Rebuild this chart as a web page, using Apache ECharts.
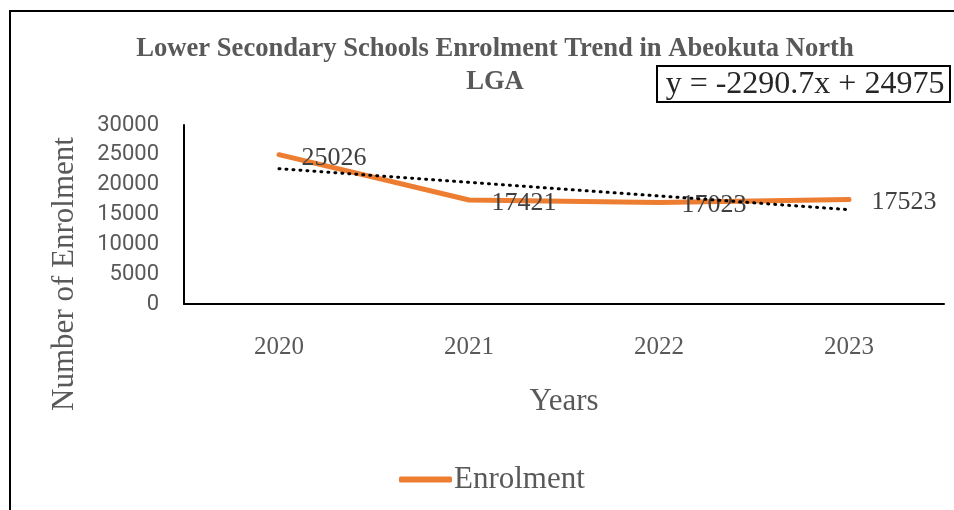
<!DOCTYPE html>
<html>
<head>
<meta charset="utf-8">
<script src="https://cdn.jsdelivr.net/npm/echarts@6/dist/echarts.min.js"></script>
<style>html,body{margin:0;padding:0;background:#fff;}#c{width:954px;height:510px;}</style>
</head>
<body>
<div id="c"></div>
<script>
var years = ['2020', '2021', '2022', '2023'];
var enrolment = [25026, 17421, 17023, 17523];
// linear trendline values (y = -2290.7x + 24975)
var trendValues = [22684, 20394, 18103, 15812];
var yTicks = { min: 0, max: 30000, interval: 5000 };
var titleLines = ['Lower Secondary Schools Enrolment Trend in Abeokuta North', 'LGA'];
var equationText = 'y = -2290.7x + 24975';
var yAxisName = 'Number of Enrolment';
var xAxisName = 'Years';

var serif = '"Liberation Serif", "Times New Roman", serif';
var chart = echarts.init(document.getElementById('c'));
chart.setOption({
  backgroundColor: '#fff',
  animation: false,
  title: {
    text: titleLines.join('\n'),
    left: 490, top: 28, textAlign: 'center',
    textStyle: { fontFamily: serif, fontWeight: 'bold', fontSize: 26.6, color: '#595959', lineHeight: 33 }
  },
  grid: { left: 184, right: 10, top: 125, bottom: 206, containLabel: false },
  legend: {
    data: ['Enrolment'], left: 394, top: 459,
    icon: 'roundRect', itemWidth: 53, itemHeight: 6, itemGap: 4,
    itemStyle: { color: '#ED7D31', opacity: 1 },
    textStyle: { fontFamily: serif, fontSize: 31, color: '#595959', padding: [0, 0, 0, -3] }
  },
  xAxis: {
    type: 'category', data: years, boundaryGap: true,
    name: xAxisName, nameLocation: 'middle', nameGap: 82,
    nameTextStyle: { fontFamily: serif, fontSize: 31, color: '#595959' },
    axisLine: { lineStyle: { color: '#000', width: 2 } },
    axisTick: { show: false },
    axisLabel: { fontFamily: serif, fontSize: 25, color: '#595959', margin: 31 },
    splitLine: { show: false }
  },
  yAxis: {
    type: 'value', min: yTicks.min, max: yTicks.max, interval: yTicks.interval,
    axisLine: { show: true, lineStyle: { color: '#000', width: 2 } },
    axisTick: { show: false },
    axisLabel: { fontFamily: 'Roboto, sans-serif', fontSize: 22, color: '#595959', margin: 25,
      formatter: function (v) { return String(v); } },
    splitLine: { show: false }
  },
  series: [
    {
      name: 'Enrolment', type: 'line', data: enrolment,
      symbol: 'circle', symbolSize: 1, showSymbol: true, z: 3,
      lineStyle: { color: '#ED7D31', width: 5, cap: 'round', join: 'round' },
      itemStyle: { color: '#ED7D31', opacity: 0 },
      label: { show: true, position: 'right', distance: 22, offset: [0, 3],
        fontFamily: serif, fontSize: 26, color: '#404040', opacity: 1 }
    },
    {
      name: 'Trend', type: 'line', data: trendValues,
      symbol: 'none', z: 4, silent: true,
      lineStyle: { color: '#000', width: 3, type: [1, 6], cap: 'round' }
    }
  ],
  graphic: [
    { type: 'rect', shape: { x: 10, y: 11, width: 960, height: 520 },
      style: { fill: 'none', stroke: '#000', lineWidth: 2 }, z: 100 },
    { type: 'rect', shape: { x: 657, y: 66, width: 293, height: 36 },
      style: { fill: '#fff', stroke: '#000', lineWidth: 2 }, z: 100 },
    { type: 'text', x: 805, y: 85, z: 101,
      style: { text: equationText, fontFamily: serif, fontSize: 32, fill: '#262626', align: 'center', verticalAlign: 'middle' } },
    { type: 'text', x: 65, y: 274, rotation: Math.PI / 2, z: 101,
      style: { text: yAxisName, fontFamily: serif, fontSize: 31, fill: '#595959', align: 'center', verticalAlign: 'middle' } }
  ]
});
</script>
</body>
</html>
